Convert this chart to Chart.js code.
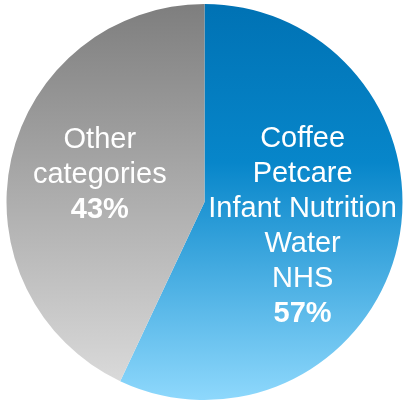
<!DOCTYPE html>
<html>
<head>
<meta charset="utf-8">
<script src="https://cdn.jsdelivr.net/npm/chart.js@4/dist/chart.umd.min.js"></script>
<style>
  html, body { margin: 0; padding: 0; background: #fff; }
  canvas { display: block; }
</style>
</head>
<body>
<canvas id="sharePie" width="404" height="402"></canvas>
<script>
// Data
const categories = [
  ['Coffee', 'Petcare', 'Infant Nutrition', 'Water', 'NHS'],
  ['Other', 'categories']
];
const shares = [57, 43];
const percentLabels = ['57%', '43%'];

// vertical gradient stops per slice
const gradientStops = [
  [[0, '#0072b4'], [0.4, '#0786ca'], [1, '#8ed8fc']],
  [[0, '#7e7e7e'], [1, '#dedede']]
];
// label anchor: fraction of radius along the slice middle, plus a small nudge
const labelRadius = [0.5, 0.56];
const labelNudge = [[1.5, 3], [3.5, -3]];

function sliceGradient(context) {
  const chart = context.chart;
  const area = chart.chartArea;
  if (!area) return gradientStops[context.dataIndex][0][1];
  const g = chart.ctx.createLinearGradient(0, area.top, 0, area.bottom);
  gradientStops[context.dataIndex].forEach(([stop, color]) => g.addColorStop(stop, color));
  return g;
}

// Draw the multi-line labels inside each slice
const sliceLabels = {
  id: 'sliceLabels',
  afterDatasetsDraw(chart) {
    const ctx = chart.ctx;
    const meta = chart.getDatasetMeta(0);
    const lineHeight = 35;
    ctx.save();
    ctx.fillStyle = '#ffffff';
    ctx.textAlign = 'center';
    ctx.textBaseline = 'middle';
    meta.data.forEach((arc, i) => {
      const mid = (arc.startAngle + arc.endAngle) / 2;
      const r = arc.outerRadius * labelRadius[i];
      const cx = arc.x + Math.cos(mid) * r + labelNudge[i][0];
      const cy = arc.y + Math.sin(mid) * r + labelNudge[i][1];
      const lines = categories[i].concat([percentLabels[i]]);
      const top = cy - (lines.length - 1) * lineHeight / 2;
      lines.forEach((line, j) => {
        const isPct = j === lines.length - 1;
        ctx.font = (isPct ? 'bold ' : '') + '29px "Liberation Sans", Arial, sans-serif';
        ctx.fillText(line, cx, top + j * lineHeight);
      });
    });
    ctx.restore();
  }
};

new Chart(document.getElementById('sharePie'), {
  type: 'pie',
  data: {
    labels: categories.map(c => c.join(' ')),
    datasets: [{
      data: shares,
      backgroundColor: sliceGradient,
      borderWidth: 0
    }]
  },
  options: {
    responsive: false,
    animation: false,
    layout: { padding: { left: 6.5, right: 1.5, top: 4, bottom: 2 } },
    plugins: {
      legend: { display: false },
      tooltip: { enabled: false }
    }
  },
  plugins: [sliceLabels]
});
</script>
</body>
</html>
